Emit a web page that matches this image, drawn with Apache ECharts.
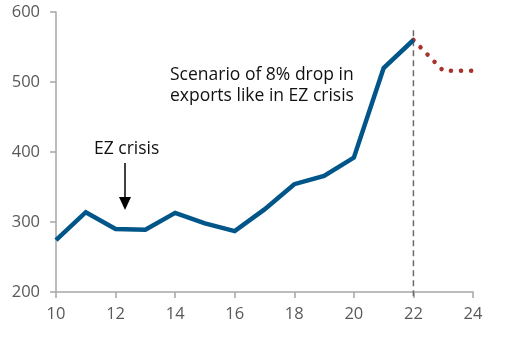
<!DOCTYPE html>
<html><head><meta charset="utf-8">
<script src="https://cdn.jsdelivr.net/npm/echarts@6/dist/echarts.min.js"></script>
<style>html,body{margin:0;padding:0;background:#fff}#c{width:520px;height:357px}</style>
</head><body><div id="c"></div>
<script>
const years = [10,11,12,13,14,15,16,17,18,19,20,21,22];
const values = [274,314,290,289,313,298,287,318,354,366,392,520,560];
const scenarioYears = [22,23,24];
const scenarioValues = [560,516,516];
const cutoffYear = 22;
const cutoffRange = [574,193];
const xTicks = {min:10,max:24,interval:2};
const yTicks = {min:200,max:600,interval:100};

const font = '"Open Sans", sans-serif';
const chart = echarts.init(document.getElementById('c'), null, {renderer:'canvas'});
chart.setOption({
  animation:false,
  grid:{left:56,right:47,top:12,bottom:65},
  xAxis:{type:'value',min:xTicks.min,max:xTicks.max,interval:xTicks.interval,
    axisLine:{lineStyle:{color:'#a6a6a6',width:1.5}},
    axisTick:{show:true,length:6,lineStyle:{color:'#a6a6a6',width:1.5}},
    axisLabel:{color:'#595959',fontSize:16.5,fontFamily:font,margin:14},
    splitLine:{show:false}},
  yAxis:{type:'value',min:yTicks.min,max:yTicks.max,interval:yTicks.interval,
    axisLine:{show:true,lineStyle:{color:'#a6a6a6',width:1.5}},
    axisTick:{show:true,length:6,lineStyle:{color:'#a6a6a6',width:1.5}},
    axisLabel:{color:'#595959',fontSize:16.5,fontFamily:font,margin:16},
    splitLine:{show:false}},
  series:[
    {type:'line',data:[[cutoffYear,cutoffRange[0]],[cutoffYear,cutoffRange[1]]],clip:false,symbol:'none',
      lineStyle:{color:'#6b6b6b',width:1.5,type:[6,4]},z:1},
    {type:'line',data:scenarioYears.map((x,i)=>[x,scenarioValues[i]]),symbol:'none',
      lineStyle:{color:'#a8322a',width:4.5,type:[0.1,10],cap:'round'},z:2},
    {type:'line',data:years.map((x,i)=>[x,values[i]]),symbol:'none',
      lineStyle:{color:'#005689',width:4.5,join:'miter'},z:3}
  ],
  graphic:[
    {type:'text',left:170,top:65,style:{text:'Scenario of 8% drop in\nexports like in EZ crisis',fill:'#111',font:'17.5px "Open Sans", sans-serif',lineHeight:21}},
    {type:'text',left:94,top:140,style:{text:'EZ crisis',fill:'#111',font:'17.5px "Open Sans", sans-serif'}},
    {type:'line',shape:{x1:125,y1:163,x2:125,y2:199},style:{stroke:'#000',lineWidth:1.5}},
    {type:'polygon',shape:{points:[[119,197],[131,197],[125,210]]},style:{fill:'#000'}}
  ]
});
</script></body></html>
